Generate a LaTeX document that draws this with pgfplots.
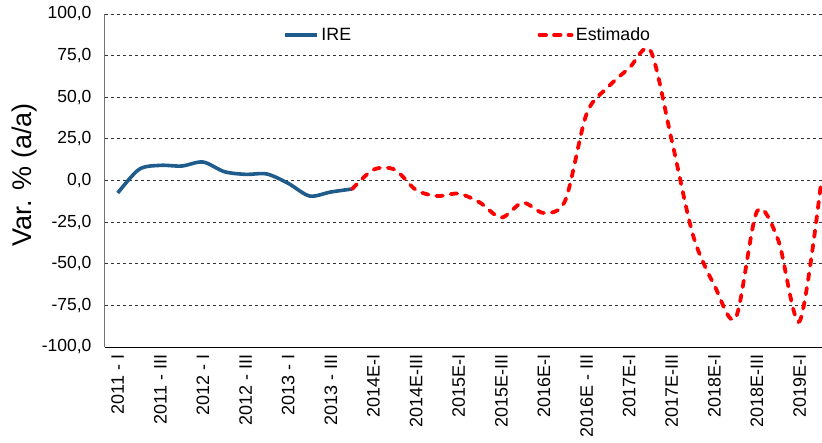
\documentclass[border=0pt]{standalone}
\usepackage{fontspec}
\setmainfont{Liberation Sans}
\usepackage{pgfplots}
\pgfplotsset{compat=1.18}
\definecolor{ireblue}{RGB}{31,92,140}
\begin{document}
\begin{tikzpicture}
\begin{axis}[
  scale only axis,
  width=717pt, height=333pt,
  xmin=-0.6, xmax=33.05,
  ymin=-100, ymax=100,
  axis x line*=bottom, axis y line*=left,
  x axis line style={black, line width=1pt, -},
  y axis line style={black!55, line width=1pt, -},
  ytick={-100,-75,...,100},
  xtick={0,2,...,32},
  xticklabels={2011 - I,2011 - III,2012 - I,2012 - III,2013 - I,2013 - III,2014E-I,2014E-III,2015E-I,2015E-III,2016E-I,2016E - III,2017E-I,2017E-III,2018E-I,2018E-III,2019E-I},
  major tick length=0pt,
  ymajorgrids,
  grid style={black!80, dash pattern=on 3pt off 3pt, line width=0.9pt},
  yticklabel style={font=\fontsize{17.5}{17.5}\selectfont, xshift=-10pt,
    /pgf/number format/.cd, fixed, fixed zerofill, precision=1, use comma, assume math mode=true},
  xticklabel style={font=\fontsize{18}{18}\selectfont, rotate=90, anchor=east, xshift=-4pt},
  ylabel={Var. \% (a/a)},
  ylabel style={font=\fontsize{27}{27}\selectfont, at={(axis description cs:-0.1116,0.518)}, anchor=center},
  legend columns=2,
  legend style={at={(0.5063,0.937)}, anchor=center, draw=none, fill=none,
    font=\fontsize{17.8}{17.8}\selectfont,
    nodes={inner xsep=2.5pt, inner ysep=1pt},
    /tikz/every even column/.append style={column sep=184pt}},
  legend image code/.code={\draw[#1] (0pt,0pt) -- (32pt,0pt);},
]
\addplot[ireblue, line width=3.6pt, smooth, tension=0.5] coordinates {
(0,-7.5) (1,6.7) (2,9.1) (3,8.7) (4,11.1) (5,5.3) (6,3.7) (7,3.9) (8,-1.7) (9,-9.3) (10,-6.9) (11,-5.1)
};
\addlegendentry{IRE}
\addplot[red, line width=3.8pt, smooth, tension=0.5, line cap=round, dash pattern=on 6.5pt off 8pt] coordinates {
(11,-5.1) (12,6.5) (13,6.5) (14,-5.7) (15,-9.3) (16,-7.9) (17,-13.3) (18,-22.3) (19,-13.3) (20,-19.5) (21,-12) (22,40) (23,56) (24,67.5) (25,78) (26,24) (27,-33) (28,-63) (29,-82.5) (30,-18.5) (31,-36) (32,-84.5) (33,-2)
};
\addlegendentry{Estimado}
\coordinate (bl) at (rel axis cs:0,0);
\coordinate (tr) at (rel axis cs:1,1);
\end{axis}
\pgfresetboundingbox
\path[use as bounding box] ([xshift=-105pt,yshift=-95pt]bl) rectangle ([yshift=14pt]tr);
\end{tikzpicture}
\end{document}
